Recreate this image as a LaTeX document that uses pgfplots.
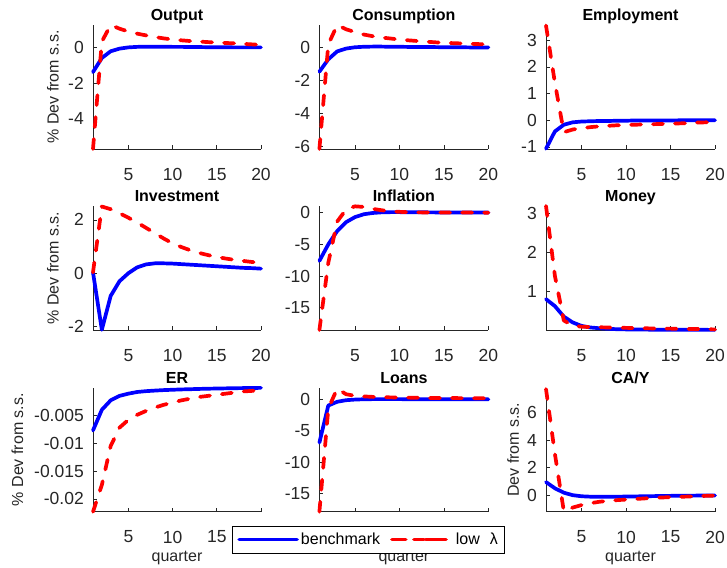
\documentclass[border=0pt]{standalone}
\usepackage{fontspec}
\setmainfont{Liberation Sans}
\usepackage{pgfplots}
\pgfplotsset{compat=1.18}
\usepackage{pgfplotstable}
\definecolor{axgray}{rgb}{0.15,0.15,0.15}
\definecolor{mblue}{rgb}{0,0,1}
\definecolor{mred}{rgb}{1,0,0}

\pgfplotstableread{
x b r
1 -1.38 -5.74
2 -0.58 0.35
3 -0.20 1.29
4 -0.05 1.08
5 0.02 0.92
6 0.05 0.80
7 0.06 0.70
8 0.06 0.61
9 0.06 0.53
10 0.05 0.47
11 0.05 0.42
12 0.04 0.38
13 0.04 0.35
14 0.03 0.32
15 0.03 0.30
16 0.03 0.27
17 0.02 0.25
18 0.02 0.22
19 0.02 0.19
20 0.02 0.16
}\outputdata

\pgfplotstableread{
x b r
1 -1.45 -6.14
2 -0.70 0.20
3 -0.22 1.38
4 -0.05 1.12
5 0.03 0.95
6 0.06 0.80
7 0.07 0.70
8 0.07 0.62
9 0.06 0.56
10 0.06 0.50
11 0.05 0.45
12 0.05 0.41
13 0.04 0.37
14 0.04 0.33
15 0.03 0.30
16 0.03 0.28
17 0.03 0.26
18 0.02 0.24
19 0.02 0.22
20 0.02 0.20
}\consdata

\pgfplotstableread{
x b r
1 -1.07 3.55
2 -0.42 1.40
3 -0.17 -0.45
4 -0.08 -0.35
5 -0.05 -0.30
6 -0.04 -0.26
7 -0.03 -0.23
8 -0.03 -0.21
9 -0.02 -0.19
10 -0.02 -0.18
11 -0.01 -0.17
12 -0.01 -0.16
13 -0.01 -0.15
14 -0.01 -0.14
15 -0.01 -0.13
16 -0.005 -0.12
17 -0.005 -0.11
18 -0.005 -0.09
19 -0.005 -0.08
20 -0.005 -0.07
}\empdata

\pgfplotstableread{
x b r
1 0.03 0.03
2 -2.12 2.50
3 -0.85 2.40
4 -0.30 2.25
5 0.00 2.08
6 0.22 1.90
7 0.33 1.70
8 0.37 1.50
9 0.37 1.30
10 0.36 1.12
11 0.34 0.98
12 0.32 0.86
13 0.30 0.76
14 0.28 0.68
15 0.26 0.61
16 0.24 0.55
17 0.22 0.50
18 0.20 0.46
19 0.19 0.42
20 0.17 0.39
}\invdata

\pgfplotstableread{
x b r
1 -7.6 -18.5
2 -5.0 -7.9
3 -2.9 -1.4
4 -1.5 0.5
5 -0.7 1.0
6 -0.25 0.9
7 -0.05 0.6
8 0.05 0.38
9 0.08 0.22
10 0.08 0.13
11 0.07 0.08
12 0.06 0.05
13 0.05 0.03
14 0.04 0.02
15 0.03 0.02
16 0.03 0.01
17 0.02 0.01
18 0.02 0.01
19 0.01 0.0
20 0.01 0.0
}\infldata

\pgfplotstableread{
x b r
1 0.80 3.20
2 0.62 1.40
3 0.35 0.25
4 0.20 0.12
5 0.11 0.09
6 0.07 0.08
7 0.05 0.075
8 0.035 0.07
9 0.025 0.065
10 0.02 0.06
11 0.017 0.055
12 0.015 0.05
13 0.013 0.045
14 0.012 0.04
15 0.011 0.04
16 0.010 0.035
17 0.010 0.03
18 0.009 0.03
19 0.009 0.025
20 0.008 0.02
}\moneydata

\pgfplotstableread{
x b r
1 -0.0077 -0.0223
2 -0.0040 -0.0175
3 -0.0023 -0.0105
4 -0.0015 -0.0072
5 -0.0011 -0.0058
6 -0.0008 -0.0049
7 -0.00065 -0.0042
8 -0.00055 -0.0036
9 -0.00046 -0.0031
10 -0.0004 -0.0027
11 -0.00034 -0.0023
12 -0.0003 -0.0020
13 -0.00025 -0.0017
14 -0.00021 -0.0015
15 -0.00018 -0.0013
16 -0.00015 -0.0011
17 -0.00012 -0.0009
18 -0.0001 -0.0007
19 -0.00008 -0.0006
20 -0.00006 -0.0004
}\erdata

\pgfplotstableread{
x b r
1 -6.9 -17.9
2 -1.0 -1.5
3 -0.4 1.7
4 -0.15 0.8
5 -0.05 0.55
6 0.0 0.45
7 0.02 0.38
8 0.02 0.33
9 0.02 0.30
10 0.02 0.28
11 0.01 0.26
12 0.01 0.24
13 0.01 0.22
14 0.01 0.21
15 0.01 0.20
16 0.01 0.19
17 0.0 0.18
18 0.0 0.17
19 0.0 0.16
20 0.0 0.15
}\loansdata

\pgfplotstableread{
x b r
1 0.95 7.7
2 0.50 3.0
3 0.18 -1.15
4 0.00 -0.90
5 -0.08 -0.72
6 -0.11 -0.58
7 -0.12 -0.48
8 -0.12 -0.41
9 -0.11 -0.36
10 -0.10 -0.32
11 -0.09 -0.28
12 -0.08 -0.24
13 -0.07 -0.20
14 -0.06 -0.17
15 -0.05 -0.14
16 -0.04 -0.12
17 -0.04 -0.10
18 -0.03 -0.07
19 -0.03 -0.05
20 -0.02 -0.03
}\cadata

\pgfplotsset{
 panel/.style={
  scale only axis, width=168pt, height=124pt, clip=false,
  axis x line=bottom, axis y line=left,
  axis line style={-, draw=axgray, line width=0.7pt},
  every tick/.style={draw=axgray, line width=0.7pt},
  tick align=inside, major tick length=4pt,
  xmin=1, xmax=20, xtick={5,10,15,20}, xticklabels={5,10,15,20},
  scaled ticks=false,
  tick label style={font=\fontsize{17.5}{20}\selectfont, text=axgray, inner sep=0pt},
  xticklabel style={anchor=north, yshift=-19pt},
  yticklabel style={anchor=east, xshift=-9pt},
  title style={font=\bfseries\fontsize{16}{18}\selectfont, anchor=base, yshift=-1.5pt},
  label style={font=\fontsize{16}{18}\selectfont, text=axgray},
  ylabel style={at={(axis description cs:-0.238,0.5)}, anchor=center},
  xlabel style={at={(axis description cs:0.5,0)}, anchor=center, yshift=-46.5pt},
 },
 bl/.style={mblue, line width=3.7pt, line cap=round, line join=round, mark=none},
 rd/.style={mred, line width=3.7pt, line cap=round, line join=round, dash pattern=on 10pt off 12pt, mark=none},
}

\begin{document}
\begin{tikzpicture}
\path[use as bounding box] (0,0) rectangle (727pt,567pt);

% Row 1
\begin{axis}[panel, at={(93pt,418pt)}, anchor=south west, title={Output},
  ylabel={\% Dev from s.s.}, ymin=-5.74, ymax=1.29, ytick={-4,-2,0}, yticklabels={-4,-2,0}]
\addplot[bl] table[x=x,y=b]{\outputdata};
\addplot[rd] table[x=x,y=r]{\outputdata};
\end{axis}
\begin{axis}[panel, width=169pt, at={(319.4pt,418pt)}, anchor=south west, title={Consumption},
  ymin=-6.14, ymax=1.38, ytick={-6,-4,-2,0}, yticklabels={-6,-4,-2,0}]
\addplot[bl] table[x=x,y=b]{\consdata};
\addplot[rd] table[x=x,y=r]{\consdata};
\end{axis}
\begin{axis}[panel, width=169pt, at={(546pt,418pt)}, anchor=south west, title={Employment},
  ymin=-1.08, ymax=3.57, ytick={-1,0,1,2,3}, yticklabels={-1,0,1,2,3}]
\addplot[bl] table[x=x,y=b]{\empdata};
\addplot[rd] table[x=x,y=r]{\empdata};
\end{axis}

% Row 2
\begin{axis}[panel, at={(93pt,237pt)}, anchor=south west, title={Investment},
  ylabel={\% Dev from s.s.}, ymin=-2.13, ymax=2.52, ytick={-2,0,2}, yticklabels={-2,0,2}]
\addplot[bl] table[x=x,y=b]{\invdata};
\addplot[rd] table[x=x,y=r]{\invdata};
\end{axis}
\begin{axis}[panel, width=169pt, at={(319.4pt,237pt)}, anchor=south west, title={Inflation},
  ymin=-18.5, ymax=1.05, ytick={-15,-10,-5,0}, yticklabels={-15,-10,-5,0}]
\addplot[bl] table[x=x,y=b]{\infldata};
\addplot[rd] table[x=x,y=r]{\infldata};
\end{axis}
\begin{axis}[panel, width=169pt, at={(546pt,237pt)}, anchor=south west, title={Money},
  ymin=0.005, ymax=3.2, ytick={1,2,3}, yticklabels={1,2,3}]
\addplot[bl] table[x=x,y=b]{\moneydata};
\addplot[rd] table[x=x,y=r]{\moneydata};
\end{axis}

% Row 3
\begin{axis}[panel, at={(93pt,55.3pt)}, anchor=south west, title={ER},
  ylabel={\% Dev from s.s.}, xlabel={quarter},
  ylabel style={at={(axis description cs:-0.45,0.5)}},
  ymin=-0.0223, ymax=-0.00003, ytick={-0.02,-0.015,-0.01,-0.005},
  yticklabels={-0.02,-0.015,-0.01,-0.005}]
\addplot[bl] table[x=x,y=b]{\erdata};
\addplot[rd] table[x=x,y=r]{\erdata};
\end{axis}
\begin{axis}[panel, width=169pt, at={(319.4pt,55.3pt)}, anchor=south west, title={Loans},
  xlabel={quarter},
  ymin=-17.9, ymax=1.84, ytick={-15,-10,-5,0}, yticklabels={-15,-10,-5,0}]
\addplot[bl] table[x=x,y=b]{\loansdata};
\addplot[rd] table[x=x,y=r]{\loansdata};
\end{axis}
\begin{axis}[panel, width=169pt, at={(546pt,55.3pt)}, anchor=south west, title={CA/Y},
  xlabel={quarter}, ylabel={Dev from s.s.},
  ylabel style={at={(axis description cs:-0.195,0.5)}},
  ymin=-1.2, ymax=7.8, ytick={0,2,4,6}, yticklabels={0,2,4,6},
  legend style={at={(-1.050,-0.224)}, anchor=center, draw=black, line width=0.7pt,
    fill=white, font=\fontsize{16}{18}\selectfont, text=black, legend columns=2,
    inner xsep=5pt, inner ysep=5pt,
    /tikz/every even column/.append style={column sep=8pt}}]
\addplot[bl, legend image code/.code={\draw[mblue, line width=3.7pt, line cap=round] (0pt,0pt) -- (58pt,0pt);}] table[x=x,y=b]{\cadata};
\addlegendentry{benchmark}
\addplot[rd, legend image code/.code={\path (0pt,0pt) -- (60pt,0pt);\draw[mred, line width=3.7pt, line cap=round, dash pattern=on 12pt off 20pt] (1.75pt,0pt) -- (50pt,0pt);}] table[x=x,y=r]{\cadata};
\addlegendentry{low\hspace{10pt}λ}
\end{axis}
\end{tikzpicture}
\end{document}
